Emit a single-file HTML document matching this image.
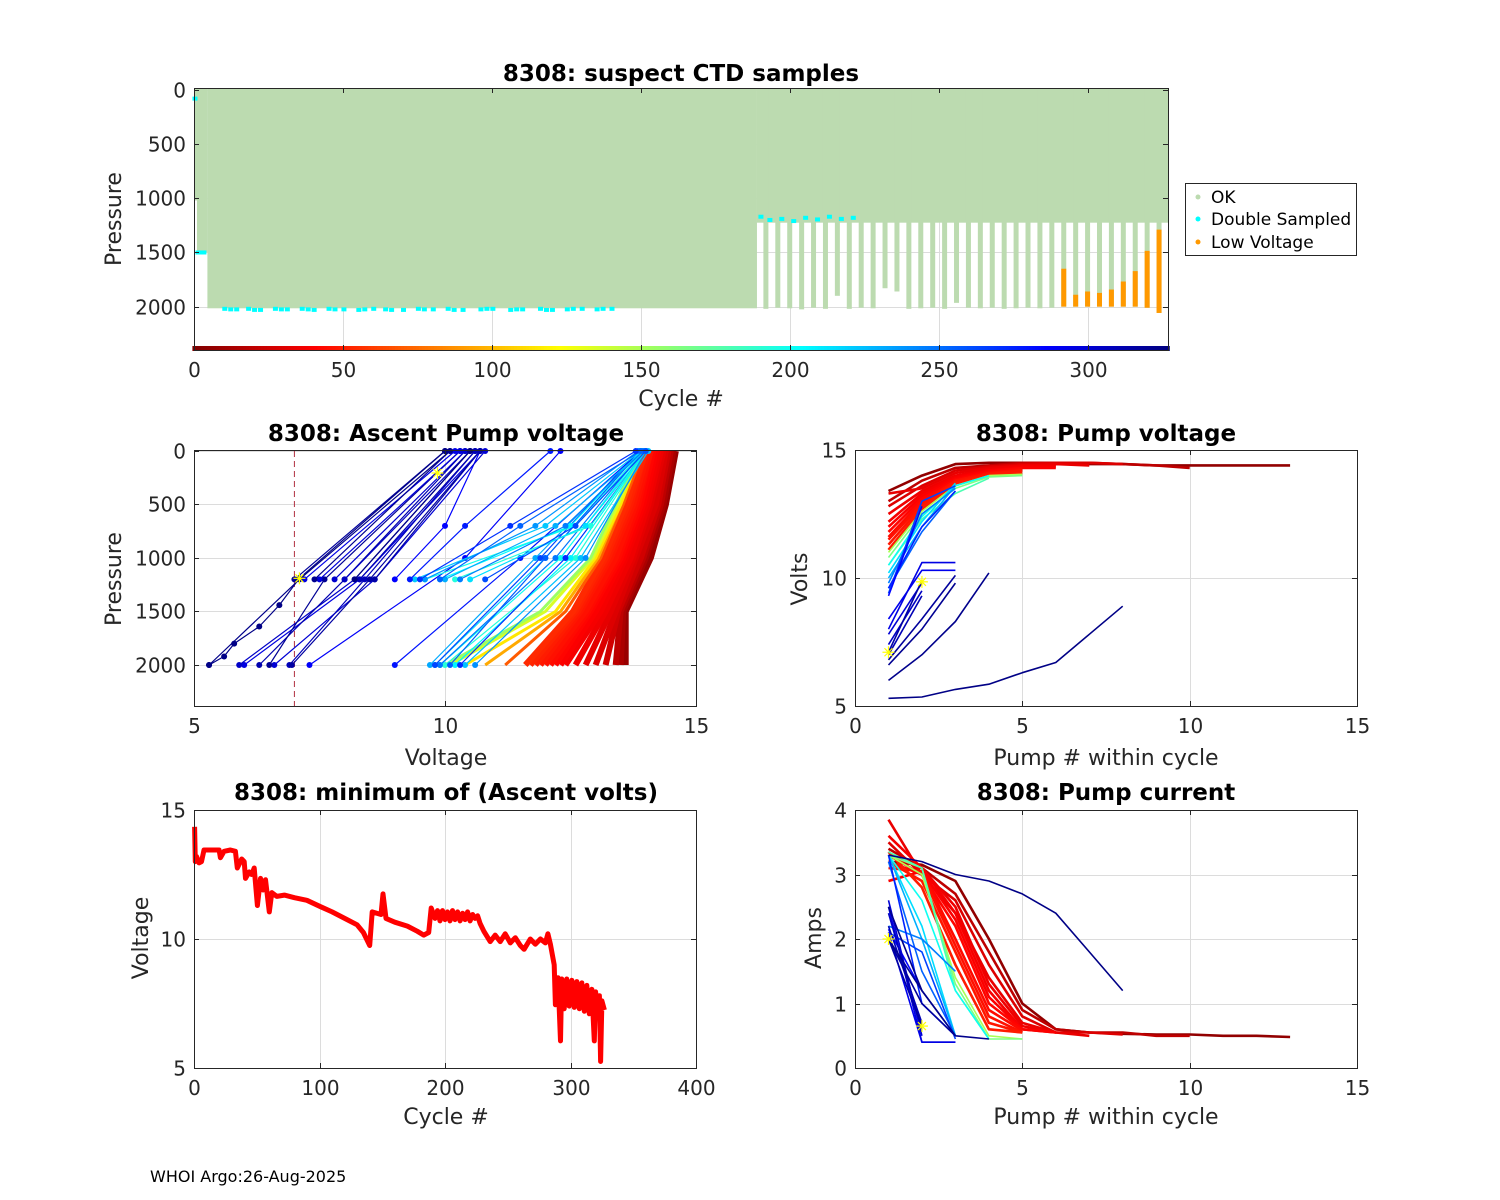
<!DOCTYPE html>
<html><head><meta charset="utf-8"><title>8308 float diagnostics</title>
<style>
html,body{margin:0;padding:0;background:#fff;}
svg{display:block;font-family:"DejaVu Sans","Liberation Sans",sans-serif;}
.tk{font-size:20px;fill:#262626;}
.lb{font-size:22px;fill:#262626;}
.tt{font-size:23px;font-weight:bold;fill:#000;}
</style></head>
<body>
<svg id="chart" width="1500" height="1200" viewBox="0 0 1500 1200" xmlns="http://www.w3.org/2000/svg">
<rect width="1500" height="1200" fill="#fff"/>
<g id="layer"></g>
<text x="681" y="81" text-anchor="middle" class="tt">8308: suspect CTD samples</text>
<text x="681" y="406" text-anchor="middle" class="lb">Cycle #</text>
<text transform="translate(121,219) rotate(-90)" text-anchor="middle" class="lb">Pressure</text>
<text x="446" y="441" text-anchor="middle" class="tt">8308: Ascent Pump voltage</text>
<text x="446" y="765" text-anchor="middle" class="lb">Voltage</text>
<text transform="translate(121,579) rotate(-90)" text-anchor="middle" class="lb">Pressure</text>
<text x="1106" y="441" text-anchor="middle" class="tt">8308: Pump voltage</text>
<text x="1106" y="765" text-anchor="middle" class="lb">Pump # within cycle</text>
<text transform="translate(807,579) rotate(-90)" text-anchor="middle" class="lb">Volts</text>
<text x="446" y="800" text-anchor="middle" class="tt">8308: minimum of (Ascent volts)</text>
<text x="446" y="1124" text-anchor="middle" class="lb">Cycle #</text>
<text transform="translate(148,938) rotate(-90)" text-anchor="middle" class="lb">Voltage</text>
<text x="1106" y="800" text-anchor="middle" class="tt">8308: Pump current</text>
<text x="1106" y="1124" text-anchor="middle" class="lb">Pump # within cycle</text>
<text transform="translate(821,938) rotate(-90)" text-anchor="middle" class="lb">Amps</text>
<text x="150" y="1182" style="font-size:16px" fill="#000">WHOI Argo:26-Aug-2025</text>
<g>
<rect x="1185.5" y="183.5" width="171" height="72" fill="#fff" stroke="#262626"/>
<circle cx="1198" cy="197" r="2.5" fill="#bcdbb0"/>
<text x="1211" y="203" style="font-size:17px" fill="#000">OK</text>
<circle cx="1198" cy="219" r="2.5" fill="#00ffff"/>
<text x="1211" y="225" style="font-size:17px" fill="#000">Double Sampled</text>
<circle cx="1198" cy="242" r="2.5" fill="#ff9900"/>
<text x="1211" y="248" style="font-size:17px" fill="#000">Low Voltage</text>
</g>
</svg>
<script>
// ---------- CTD suspect samples data ----------
const blockStart = [0, 1, 4.5, 189];
const blockEnd = [1, 4.5, 189, 327];
const blockDepth = [1020, 1500, 2015, 1225];
const barCycle = [192,196,200,204,208,212,216,220,224,228,232,236,240,244,248,252,256,260,264,268,272,276,280,284,288,292,296,300,304,308,312,316,320,324];
const barDepth = [2020,2010,2015,2025,2010,2020,1900,2020,2010,2015,1830,1860,2020,2015,2010,2020,1965,2010,2015,2010,2020,2015,2010,2015,2010,2000,2000,2000,2000,2000,2000,2000,2010,2058];
const lowCycle = [292,296,300,304,308,312,316,320,324];
const lowTop = [1650,1890,1860,1873,1842,1768,1672,1485,1289];
const lowBottom = [2000,2000,2000,2000,2000,2000,2000,2010,2058];
const dblCycle = [0,1,2,3,10,12,14,18,20,22,27,29,31,36,38,40,45,47,50,55,57,60,64,66,70,75,77,80,85,87,90,96,98,100,106,108,110,116,118,120,125,127,130,135,137,140,190,193,197,201,205,209,213,217,221];
const dblP = [80,1500,1500,1500,2020,2025,2025,2020,2030,2030,2020,2025,2025,2020,2025,2030,2020,2025,2025,2030,2025,2020,2025,2030,2030,2020,2025,2025,2020,2030,2030,2025,2020,2020,2030,2025,2025,2020,2030,2030,2025,2020,2020,2025,2020,2020,1170,1200,1190,1210,1180,1195,1170,1190,1180];
// ---------- Ascent pump voltage profiles ----------
const profCycle = [8,14,20,26,30,33,36,38,40,42,44,46,48,50,52,54,70,95,115,135,155,
 192,200,208,216,224,232,240,248,256,264,272,280,288,
 194,198,206,214,222,230,238,246,254,262,270,278,286,
 296,300,304,308,312,316,320,324,
 294,298,302,306,310,314,318,322,326,325];
const profV = [
 [13.6,13.6,14.1,14.4,14.6],[13.5,13.55,14.0,14.35,14.55],[13.4,13.5,13.95,14.3,14.5],[13.2,13.45,13.9,14.25,14.45],
 [13.0,13.4,13.8,14.2,14.4],[12.8,13.3,13.75,14.1,14.35],[12.6,13.2,13.7,14.05,14.3],[12.4,13.1,13.6,14.0,14.25],
 [12.3,13.0,13.55,13.95,14.2],[12.2,12.9,13.5,13.9,14.15],[12.1,12.85,13.45,13.85,14.1],[12.0,12.8,13.4,13.8,14.1],
 [11.9,12.7,13.3,13.75,14.05],[11.8,12.65,13.25,13.7,14.0],[11.7,12.6,13.2,13.65,14.0],[11.6,12.55,13.15,13.6,13.95],
 [11.2,12.4,13.1,13.55,13.95],[10.8,12.3,13.05,13.5,13.9],[10.4,12.2,13.0,13.5,13.9],[10.1,12.0,12.95,13.45,13.9],[10.0,11.9,12.9,13.4,13.9],
 [10.0,12.6,14.0],[9.9,12.3,13.95],[10.2,12.5,14.0],[9.8,12.0,13.9],[10.4,12.7,14.05],[9.7,11.8,13.9],[10.6,12.8,14.0],
 [9.9,12.2,13.95],[10.1,12.0,13.9],[9.8,11.9,13.85],[10.3,12.4,14.0],[9.0,11.5,13.9],[7.3,10.4,12.3],
 [10.2,12.9,14.0],[9.6,12.6,13.95],[9.9,12.5,13.9],[10.5,12.8,14.0],[9.4,12.0,13.9],[10.0,12.2,13.95],[9.6,11.8,13.85],
 [10.3,12.4,13.95],[9.9,11.5,13.9],[10.8,12.6,14.0],[9.5,11.3,13.8],[9.3,10.4,12.1],[9.0,10.0,10.7],
 [6.0,8.3,10.7],[6.6,8.6,10.8],[5.9,8.2,10.5],[6.9,8.4,10.6],[6.3,8.0,10.4],[6.95,8.5,10.7],[6.5,7.6,10.3],[5.3,7.1,10.1],
 [7.2,10.2],[7.5,10.3],[7.8,10.4],[8.0,10.5],[8.3,10.6],[8.6,10.7],[7.0,10.0],[7.4,10.1],[8.2,10.5],
 [5.3,5.6,5.8,6.3,6.7,7.1,10.0]];
const P5 = [2000,1500,1000,500,0], P3d = [2000,1000,0], P3s = [1200,700,0], P3n = [2000,1200,0], P2n = [1200,0];
const profP = [P5,P5,P5,P5,P5,P5,P5,P5,P5,P5,P5,P5,P5,P5,P5,P5,P5,P5,P5,P5,P5,
 P3d,P3d,P3d,P3d,P3d,P3d,P3d,P3d,P3d,P3d,P3d,P3d,P3d,
 P3s,P3s,P3s,P3s,P3s,P3s,P3s,P3s,P3s,P3s,P3s,P3s,P3s,
 P3n,P3n,P3n,P3n,P3n,P3n,P3n,P3n,
 P2n,P2n,P2n,P2n,P2n,P2n,P2n,P2n,P2n,
 [2000,1920,1800,1640,1440,1190,0]];
const limitVolts = [7];
// ---------- Pump voltage / current per pump ----------
const pumpCycle = [6,20,30,34,36,38,40,42,44,46,48,50,150,165,180,200,215,230,245,255,265,275,285,292,295,300,305,310,315,318,321,323,325];
const pumpVolts = [
 [13.4,14.0,14.45,14.5,14.5,14.5,14.45,14.45,14.4,14.4,14.4,14.4,14.4],[13.0,13.8,14.3,14.4,14.5,14.5,14.5,14.45,14.4,14.3],
 [12.8,13.6,14.2,14.35,14.45,14.5,14.5,14.45],[13.3,13.5,14.1,14.3,14.4,14.45,14.4],[12.5,13.4,14.0,14.25,14.4,14.4],
 [12.2,13.3,13.95,14.2,14.35,14.35],[12.0,13.2,13.9,14.2,14.3,14.3],[11.8,13.1,13.85,14.15,14.3],[11.6,13.0,13.8,14.1,14.25],
 [11.5,12.9,13.8,14.1,14.2],[11.3,12.8,13.75,14.05,14.2],[11.1,12.7,13.7,14.0,14.1],[11.0,12.6,13.6,14.0,14.05],
 [10.8,12.5,13.5,13.95,14.0],[10.5,12.3,13.3,13.9],[10.5,12.4,13.6,14.0],[10.2,12.2,13.7],[10.0,12.0,13.6],[9.8,12.5,13.5],
 [9.6,11.8,13.4],[9.4,13.0,13.6],[9.6,12.0,13.4],[9.3,12.8],[8.4,10.3,10.3],[8.0,10.6,10.6],[7.8,9.8],[7.4,9.5],[7.0,9.3],
 [7.1,9.9],[6.8,8.4,10.1],[6.6,8.0,9.8],[6.0,7.0,8.3,10.2],[5.3,5.35,5.65,5.85,6.3,6.7,7.8,8.9]];
const pumpAmps = [
 [3.2,3.15,2.9,2.0,1.0,0.6,0.55,0.53,0.52,0.52,0.5,0.5,0.48],[3.4,3.1,2.7,1.8,0.9,0.6,0.55,0.55,0.5,0.5],
 [3.5,3.0,2.6,1.6,0.8,0.55,0.55,0.52],[3.85,3.0,2.4,1.4,0.7,0.55,0.5],[3.3,3.1,2.5,1.3,0.65,0.55],
 [3.6,3.1,2.4,1.2,0.6,0.55],[2.9,3.05,2.3,1.1,0.6,0.55],[3.2,3.0,2.2,1.0,0.6],[3.1,3.05,2.0,0.9,0.58],
 [3.3,3.0,1.9,0.8,0.55],[3.2,2.9,1.8,0.7,0.55],[3.35,2.8,1.6,0.6,0.55],[3.3,3.0,1.4,0.5,0.45],
 [3.3,3.1,1.3,0.45,0.45],[3.35,3.1,1.2,0.45],[3.3,2.6,1.2,0.45],[3.3,2.2,0.5],[3.3,2.0,0.5],[2.2,2.0,1.5],
 [3.2,1.5,0.5],[2.1,1.8,0.45],[3.3,1.0,0.5],[2.15,1.2],[2.1,0.4,0.4],[2.5,0.4,0.4],[2.6,0.5],[2.4,0.6],[2.2,0.7],
 [2.0,0.65],[2.0,1.0,0.5],[2.0,1.2,0.5],[2.5,1.2,0.5,0.45],[3.3,3.2,3.0,2.9,2.7,2.4,1.8,1.2]];
// ---------- Minimum ascent voltage per cycle ----------
const minCycle = [0.5,1,2,4,6,8,12,16,20,21,24,29,33,34.5,38,40,41,44,46,48,50.5,53,55,57,60,62,66,72,80,90,101,110,122,130,135,140,142,149,150.6,153,160,170,178,183,187,189,
 192,194,196,198,200,202,204,206,208,210,212,214,216,218,220,222,224,226,228,231,236,240,244,248,252,256,260,263,268,272,276,280,282,284,287,288,290,
 292,293,295,297,299,301,303,305,307,309,311,313,315,317,319,320,322,323,324,325,327];
const minVolts = [14.35,13.0,13.2,12.95,13.0,13.45,13.45,13.45,13.45,13.15,13.4,13.45,13.4,12.75,13.1,13.0,12.35,12.6,12.5,12.75,11.3,12.35,11.9,12.3,11.05,11.8,11.65,11.7,11.6,11.5,11.25,11.05,10.75,10.55,10.25,9.75,11.05,10.95,11.75,10.8,10.65,10.5,10.3,10.15,10.25,11.2,
 10.8,11.1,10.7,11.1,10.75,11.05,10.7,11.1,10.75,11.05,10.7,11.0,10.75,11.05,10.7,10.95,10.8,10.9,10.6,10.3,9.9,10.15,9.9,10.2,9.85,10.05,9.75,9.6,10.0,9.8,10.0,9.85,10.2,9.8,9.0,7.45,8.5,
 6.05,8.45,7.3,8.45,7.4,8.4,7.35,8.35,7.3,8.3,7.2,8.2,7.1,8.05,6.05,7.95,7.0,7.8,5.25,7.6,7.25];
</script>
<script>
const layer = document.getElementById('layer');
const NS = 'http://www.w3.org/2000/svg';
function mk(tag, parent){const e=document.createElementNS(NS,tag);(parent||layer).appendChild(e);return e;}
function lin(d0,d1,r0,r1){return v=>r0+(v-d0)*(r1-r0)/(d1-d0);}
function clamp(v){return Math.max(0,Math.min(1,v));}
function jet(c){const t=1-c/327;const r=clamp(1.5-Math.abs(4*t-3)),g=clamp(1.5-Math.abs(4*t-2)),b=clamp(1.5-Math.abs(4*t-1));
 return 'rgb('+Math.round(r*255)+','+Math.round(g*255)+','+Math.round(b*255)+')';}

const panels = {
 ctd:{x:lin(0,327,194,1168),y:lin(-18,2400,88,350),b:[194,88,1168,350]},
 asc:{x:lin(5,15,194,696),y:lin(-9,2383,450,706),b:[194,450,696,706]},
 pv:{x:lin(0,15,855,1357),y:lin(5,15,706,450),b:[855,450,1357,706]},
 mv:{x:lin(0,400,194,696),y:lin(5,15,1068,810),b:[194,810,696,1068]},
 pa:{x:lin(0,15,855,1357),y:lin(0,4,1068,810),b:[855,810,1357,1068]}
};
function grid(p,xt,yt,name){
 const g=mk('g');
 
 
 const [x0,y0,x1,y1]=p.b;
 xt.forEach(v=>{const l=mk('line',g);const X=Math.round(p.x(v))+0.5;l.setAttribute('x1',X);l.setAttribute('x2',X);l.setAttribute('y1',y0);l.setAttribute('y2',y1);l.setAttribute('stroke','#dcdcdc');});
 yt.forEach(v=>{const l=mk('line',g);const Y=Math.round(p.y(v))+0.5;l.setAttribute('y1',Y);l.setAttribute('y2',Y);l.setAttribute('x1',x0);l.setAttribute('x2',x1);l.setAttribute('stroke','#dcdcdc');});
}
function axes(p,xt,yt,name){
 const g=mk('g');
 
 
 const [x0,y0,x1,y1]=p.b;
 const r=mk('rect',g);r.setAttribute('x',x0+0.5);r.setAttribute('y',y0+0.5);r.setAttribute('width',x1-x0);r.setAttribute('height',y1-y0);r.setAttribute('fill','none');r.setAttribute('stroke','#262626');
 xt.forEach(v=>{const X=Math.round(p.x(v))+0.5;
  [[y1,y1-5],[y0,y0+5]].forEach(s=>{const l=mk('line',g);l.setAttribute('x1',X);l.setAttribute('x2',X);l.setAttribute('y1',s[0]);l.setAttribute('y2',s[1]);l.setAttribute('stroke','#262626');});
  const t=mk('text',g);t.setAttribute('x',X);t.setAttribute('y',y1+27);t.setAttribute('text-anchor','middle');t.setAttribute('class','tk');t.textContent=v;
  
  });
 yt.forEach(v=>{const Y=Math.round(p.y(v))+0.5;
  [[x0,x0+5],[x1,x1-5]].forEach(s=>{const l=mk('line',g);l.setAttribute('y1',Y);l.setAttribute('y2',Y);l.setAttribute('x1',s[0]);l.setAttribute('x2',s[1]);l.setAttribute('stroke','#262626');});
  const t=mk('text',g);t.setAttribute('x',x0-8);t.setAttribute('y',Y+7);t.setAttribute('text-anchor','end');t.setAttribute('class','tk');t.textContent=v;
  
  });
}
function poly(pts,color,w,parent){const l=mk('polyline',parent);l.setAttribute('points',pts.map(q=>q[0].toFixed(1)+','+q[1].toFixed(1)).join(' '));l.setAttribute('fill','none');l.setAttribute('stroke',color);l.setAttribute('stroke-width',w);l.setAttribute('stroke-linejoin','round');return l;}
function star(x,y,parent){const g=mk('g',parent);[[-6,0,6,0],[0,-6,0,6],[-4,-4,4,4],[-4,4,4,-4]].forEach(s=>{const l=mk('line',g);l.setAttribute('x1',x+s[0]);l.setAttribute('y1',y+s[1]);l.setAttribute('x2',x+s[2]);l.setAttribute('y2',y+s[3]);l.setAttribute('stroke','#ffff00');l.setAttribute('stroke-width',1.2);});return g;}

// ===== Panel 1: CTD =====
(function(){
 const p=panels.ctd;
 grid(p,[0,50,100,150,200,250,300],[0,500,1000,1500,2000],'ctd');
 const g=mk('g');
 
 
 blockStart.forEach((s,i)=>{const r=mk('rect',g);r.setAttribute('x',p.x(s));r.setAttribute('width',p.x(blockEnd[i])-p.x(s));r.setAttribute('y',p.y(-18));r.setAttribute('height',p.y(blockDepth[i])-p.y(-18));r.setAttribute('fill','#bcdbb0');
  
  });
 barCycle.forEach((c,i)=>{const r=mk('rect',g);r.setAttribute('x',p.x(c)-2.5);r.setAttribute('width',5);r.setAttribute('y',p.y(-18));r.setAttribute('height',p.y(barDepth[i])-p.y(-18));r.setAttribute('fill','#bcdbb0');
  
  });
 lowCycle.forEach((c,i)=>{const r=mk('rect',g);r.setAttribute('x',p.x(c)-2.5);r.setAttribute('width',5);r.setAttribute('y',p.y(lowTop[i]));r.setAttribute('height',p.y(lowBottom[i])-p.y(lowTop[i]));r.setAttribute('fill','#ff9900');
  
  });
 dblCycle.forEach((c,i)=>{const r=mk('rect',g);r.setAttribute('x',p.x(c)-1.5);r.setAttribute('width',5);r.setAttribute('y',p.y(dblP[i])-2);r.setAttribute('height',4);r.setAttribute('fill','#00ffff');
  
  });
 const cb=mk('g');
 
 
 for(let c=0;c<=327;c++){const r=mk('rect',cb);r.setAttribute('x',p.x(c)-1.6);r.setAttribute('width',3.4);r.setAttribute('y',p.y(2400)-4);r.setAttribute('height',5);r.setAttribute('fill',jet(c));}
 axes(p,[0,50,100,150,200,250,300],[0,500,1000,1500,2000],'ctd');
})();

// ===== Panel 2: Ascent pump voltage =====
(function(){
 const p=panels.asc;
 grid(p,[5,10,15],[0,500,1000,1500,2000],'ascent');
 const lim=mk('line');lim.setAttribute('x1',p.x(limitVolts[0]));lim.setAttribute('x2',p.x(limitVolts[0]));lim.setAttribute('y1',451);lim.setAttribute('y2',706);lim.setAttribute('stroke','#b03040');lim.setAttribute('stroke-dasharray','6,4');
 
 
 const g=mk('g');
 
 
 profCycle.forEach((c,i)=>{
  const pts=profV[i].map((v,k)=>[p.x(v),p.y(profP[i][k])]);
  const red=c<60;
  const l=poly(pts,jet(c),red?6:(c<190?3:1.2),g);
  
  
  if(c>=190){pts.forEach(q=>{const d=mk('circle',g);d.setAttribute('cx',q[0]);d.setAttribute('cy',q[1]);d.setAttribute('r',3);d.setAttribute('fill',jet(c));});}
 });
 star(p.x(7.1),p.y(1190),g);star(p.x(9.85),p.y(206),g);
 axes(p,[5,10,15],[0,500,1000,1500,2000],'ascent');
})();

// ===== Panels 3 & 5: pump volts / amps =====
function pumpPanel(p,vals,name,xt,yt){
 grid(p,xt,yt,name);
 const g=mk('g');
 
 
 pumpCycle.forEach((c,i)=>{
  const pts=vals[i].map((v,k)=>[p.x(k+1),p.y(v)]);
  const l=poly(pts,jet(c),c<60?2.6:1.6,g);
  
  
 });
 axes(p,xt,yt,name);
 return g;
}
(function(){
 const g=pumpPanel(panels.pv,pumpVolts,'pumpv',[0,5,10,15],[5,10,15]);
 star(panels.pv.x(1),panels.pv.y(7.1),g);star(panels.pv.x(2),panels.pv.y(9.85),g);
 const g2=pumpPanel(panels.pa,pumpAmps,'pumpa',[0,5,10,15],[0,1,2,3,4]);
 star(panels.pa.x(1),panels.pa.y(2.0),g2);star(panels.pa.x(2),panels.pa.y(0.65),g2);
})();

// ===== Panel 4: min voltage =====
(function(){
 const p=panels.mv;
 grid(p,[0,100,200,300,400],[5,10,15],'minv');
 const l=poly(minCycle.map((c,i)=>[p.x(c),p.y(minVolts[i])]),'#ff0000',5);
 
 
 axes(p,[0,100,200,300,400],[5,10,15],'minv');
})();
</script>
</body></html>
